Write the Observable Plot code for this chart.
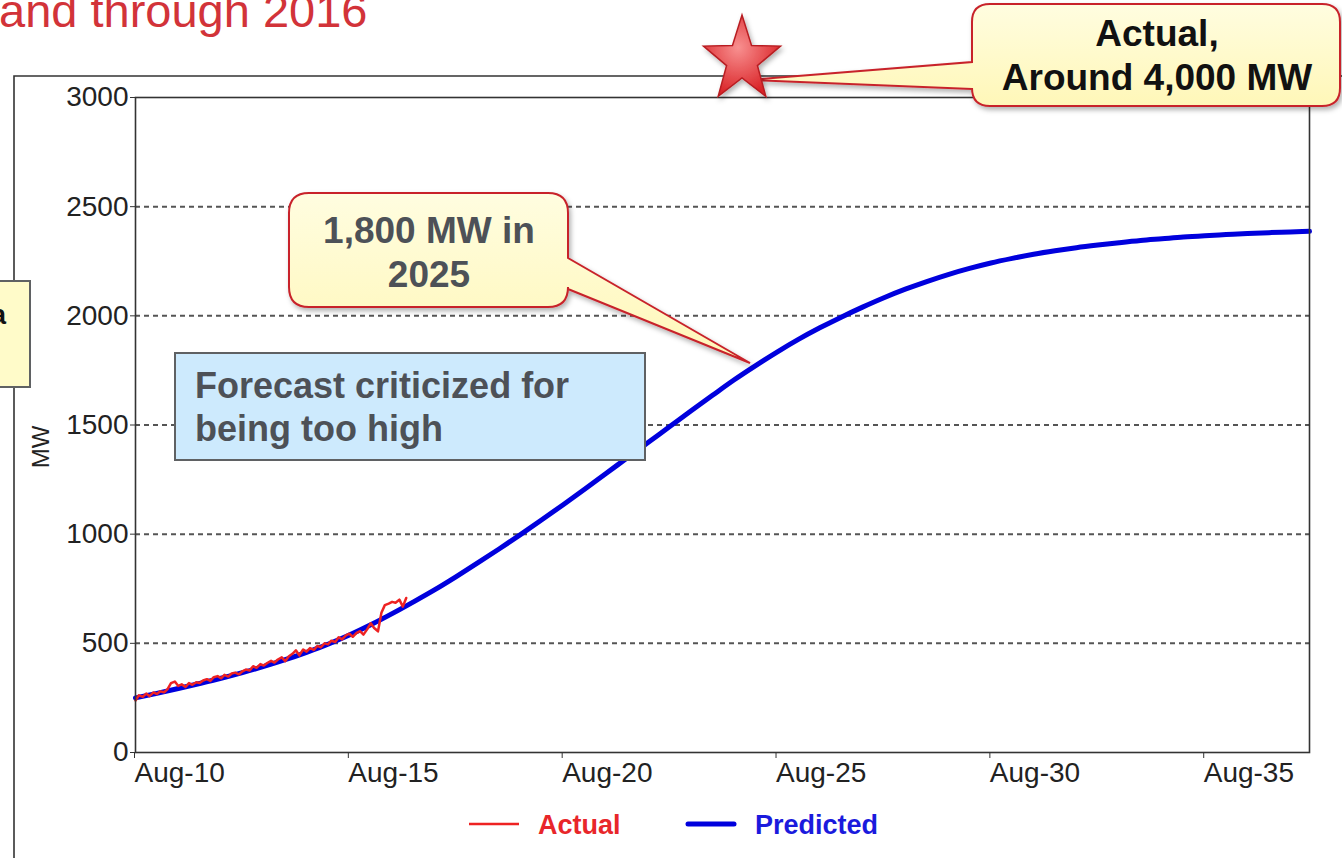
<!DOCTYPE html>
<html>
<head>
<meta charset="utf-8">
<script src="https://cdn.jsdelivr.net/npm/d3@7"></script>
<script src="https://cdn.jsdelivr.net/npm/@observablehq/plot@0.6"></script>
<style>
  html, body { margin:0; padding:0; background:#fff; width:1342px; height:858px; overflow:hidden; }
  #wrap { position:relative; width:1342px; height:858px; font-family:"Liberation Sans", Arial, sans-serif; }
  #wrap > svg { position:absolute; left:0; top:0; }
  #overlay { pointer-events:none; }
</style>
</head>
<body>
<div id="wrap"></div>
<script>
// ---- data ----
const xTicks = [2010, 2015, 2020, 2025, 2030, 2035];
const xTickLabels = ["Aug-10", "Aug-15", "Aug-20", "Aug-25", "Aug-30", "Aug-35"];
const yTicks = [0, 500, 1000, 1500, 2000, 2500, 3000];
const gridLines = [500, 1000, 1500, 2000, 2500];

const predYear = [2010.0, 2010.5, 2011.0, 2011.5, 2012.0, 2012.5, 2013.0, 2013.5, 2014.0, 2014.5,
  2015.0, 2015.5, 2016.0, 2016.5, 2017.0, 2017.5, 2018.0, 2018.5, 2019.0, 2019.5,
  2020.0, 2020.5, 2021.0, 2021.5, 2022.0, 2022.5, 2023.0, 2023.5, 2024.0, 2024.5,
  2025.0, 2025.5, 2026.0, 2026.5, 2027.0, 2027.5, 2028.0, 2028.5, 2029.0, 2029.5,
  2030.0, 2030.5, 2031.0, 2031.5, 2032.0, 2032.5, 2033.0, 2033.5, 2034.0, 2034.5,
  2035.0, 2035.5, 2036.0, 2036.5, 2037.0, 2037.45];
const predMW = [250, 271, 293, 316, 340, 366, 394, 425, 459, 496,
  538, 585, 636, 690, 746, 806, 868, 932, 998, 1066,
  1135, 1206, 1278, 1350, 1422, 1494, 1566, 1637, 1707, 1772,
  1834, 1892, 1945, 1994, 2040, 2083, 2122, 2157, 2189, 2217,
  2242, 2263, 2282, 2298, 2312, 2324, 2335, 2345, 2353, 2361,
  2367, 2372, 2377, 2381, 2384, 2387];

const actualYear = [2010.00, 2010.08, 2010.17, 2010.25, 2010.33, 2010.42, 2010.50, 2010.58, 2010.67, 2010.75,
  2010.83, 2010.92, 2011.00, 2011.08, 2011.17, 2011.25, 2011.33, 2011.42, 2011.50, 2011.58,
  2011.67, 2011.75, 2011.83, 2011.92, 2012.00, 2012.08, 2012.17, 2012.25, 2012.33, 2012.42,
  2012.50, 2012.58, 2012.67, 2012.75, 2012.83, 2012.92, 2013.00, 2013.08, 2013.17, 2013.25,
  2013.33, 2013.42, 2013.50, 2013.58, 2013.67, 2013.75, 2013.83, 2013.92, 2014.00, 2014.08,
  2014.17, 2014.25, 2014.33, 2014.42, 2014.50, 2014.58, 2014.67, 2014.75, 2014.83, 2014.92,
  2015.00, 2015.08, 2015.17, 2015.25, 2015.33, 2015.42, 2015.50, 2015.58, 2015.67, 2015.75,
  2015.83, 2015.92, 2016.00, 2016.08, 2016.17, 2016.25, 2016.33];
const actualMW = [238, 262, 255, 270, 258, 275, 268, 280, 276, 290,
  318, 325, 305, 312, 300, 318, 310, 322, 318, 330,
  336, 328, 345, 350, 340, 356, 348, 362, 366, 358,
  372, 380, 376, 395, 388, 405, 398, 410, 420, 412,
  426, 436, 418, 440, 452, 468, 445, 472, 462, 478,
  470, 488, 482, 500, 495, 512, 506, 528, 518, 536,
  544, 530, 548, 556, 540, 565, 592, 570, 555, 640,
  675, 682, 690, 686, 700, 668, 708];

const predicted = predYear.map((y, i) => ({year: y, mw: predMW[i]}));
const actual = actualYear.map((y, i) => ({year: y, mw: actualMW[i]}));

// ---- chart ----
const chart = Plot.plot({
  width: 1342,
  height: 858,
  marginLeft: 135,
  marginRight: 33,
  marginTop: 97,
  marginBottom: 106,
  style: {fontFamily: "'Liberation Sans', Arial, sans-serif", fontSize: "28px", color: "#222", background: "transparent", overflow: "visible"},
  x: {domain: [2010, 2037.45]},
  y: {domain: [0, 3000]},
  marks: [
    Plot.ruleY(gridLines, {stroke: "#555", strokeWidth: 2, strokeDasharray: "5,4"}),
    Plot.line(predicted, {x: "year", y: "mw", stroke: "#0000dd", strokeWidth: 5, curve: "monotone-x"}),
    Plot.line(actual, {x: "year", y: "mw", stroke: "#ee2222", strokeWidth: 2.5}),
    Plot.frame({stroke: "#333", strokeWidth: 1.6}),
    Plot.axisY({ticks: yTicks, tickFormat: d => String(d), tickSize: 5, tickPadding: 2, label: null, stroke: "#333", fill: "#222"}),
    Plot.axisX({ticks: xTicks, tickFormat: d => xTickLabels[xTicks.indexOf(d)], tickSize: 6, tickPadding: 4, textAnchor: "start", dx: -1, label: null, stroke: "#333", fill: "#222"})
  ]
});
document.getElementById("wrap").appendChild(chart);

// ---- overlay annotations ----
const ov = d3.select("#wrap").append("svg").attr("id", "overlay")
  .attr("width", 1342).attr("height", 858)
  .style("font-family", "'Liberation Sans', Arial, sans-serif");

const defs = ov.append("defs");
const yg = defs.append("linearGradient").attr("id", "yel").attr("x1", 0).attr("y1", 0).attr("x2", 0).attr("y2", 1);
yg.append("stop").attr("offset", "0%").attr("stop-color", "#fffde0");
yg.append("stop").attr("offset", "100%").attr("stop-color", "#fff7b8");
const rg = defs.append("radialGradient").attr("id", "starg").attr("cx", "45%").attr("cy", "40%").attr("r", "60%");
rg.append("stop").attr("offset", "0%").attr("stop-color", "#f89090");
rg.append("stop").attr("offset", "100%").attr("stop-color", "#d92226");
const f = defs.append("filter").attr("id", "sh").attr("x", "-10%").attr("y", "-10%").attr("width", "130%").attr("height", "140%");
f.append("feDropShadow").attr("dx", 2).attr("dy", 3).attr("stdDeviation", 2.5).attr("flood-color", "#000").attr("flood-opacity", 0.3);

// outer frame of slide chart
ov.append("path").attr("d", "M14,858 L14,76 L1342,76").attr("fill", "none").attr("stroke", "#333").attr("stroke-width", 1.6);

// title (cut at top, as in the slide)
ov.append("text").attr("x", -1).attr("y", 27).attr("font-size", 47).attr("fill", "#d23339").text("and through 2016");

// "MW" y label
ov.append("text").attr("transform", "translate(49,447) rotate(-90)").attr("text-anchor", "middle")
  .attr("font-size", 24).attr("fill", "#222").text("MW");

// left cut box
ov.append("rect").attr("x", -20).attr("y", 281).attr("width", 50).attr("height", 106)
  .attr("fill", "#fffbc9").attr("stroke", "#5f6163").attr("stroke-width", 2);
ov.append("text").attr("x", 6).attr("y", 324).attr("text-anchor", "end").attr("font-size", 27).attr("font-weight", "bold").attr("fill", "#111").text("a");

// blue box
ov.append("rect").attr("x", 175).attr("y", 353).attr("width", 470).attr("height", 107)
  .attr("fill", "#cdeafd").attr("stroke", "#5f6163").attr("stroke-width", 2);
const bt = ov.append("text").attr("font-size", 36).attr("font-weight", "bold").attr("fill", "#4d5157");
bt.append("tspan").attr("x", 195).attr("y", 398).text("Forecast criticized for");
bt.append("tspan").attr("x", 195).attr("y", 441).text("being too high");

function calloutPath(x0, y0, x1, y1, r, side, pa, pb, tip) {
  let d = `M${x0 + r},${y0} L${x1 - r},${y0} Q${x1},${y0} ${x1},${y0 + r} `;
  if (side === "right") d += `L${x1},${pa} L${tip[0]},${tip[1]} L${x1},${pb} `;
  d += `L${x1},${y1 - r} Q${x1},${y1} ${x1 - r},${y1} L${x0 + r},${y1} Q${x0},${y1} ${x0},${y1 - r} `;
  if (side === "left") d += `L${x0},${pb} L${tip[0]},${tip[1]} L${x0},${pa} `;
  d += `L${x0},${y0 + r} Q${x0},${y0} ${x0 + r},${y0} Z`;
  return d;
}

// callout 2: 1,800 MW in 2025
ov.append("path").attr("d", calloutPath(289, 193, 568, 307, 20, "right", 258, 289, [750, 363]))
  .attr("fill", "url(#yel)").attr("stroke", "#c8242b").attr("stroke-width", 2).attr("filter", "url(#sh)");
const c2 = ov.append("text").attr("font-size", 37).attr("font-weight", "bold").attr("fill", "#4d5157").attr("text-anchor", "middle");
c2.append("tspan").attr("x", 429).attr("y", 243).text("1,800 MW in");
c2.append("tspan").attr("x", 429).attr("y", 287).text("2025");

// star
const cx = 742, cy = 60, R = 45, r0 = 18;
const pts = [];
for (let k = 0; k < 10; k++) {
  const a = -Math.PI / 2 + k * Math.PI / 5;
  const rr = k % 2 === 0 ? R : r0;
  pts.push([cx + 0.9 * rr * Math.cos(a), cy + rr * Math.sin(a)]);
}

// callout 1: Actual, Around 4,000 MW
ov.append("path").attr("d", calloutPath(972, 4, 1340, 106, 18, "left", 62, 89, [748, 80]))
  .attr("fill", "url(#yel)").attr("stroke", "#c8242b").attr("stroke-width", 2).attr("filter", "url(#sh)");
ov.append("polygon").attr("points", pts.map(p => p.join(",")).join(" "))
  .attr("fill", "url(#starg)").attr("stroke", "#b81e22").attr("stroke-width", 1.5).attr("filter", "url(#sh)");
const c1 = ov.append("text").attr("font-size", 37).attr("font-weight", "bold").attr("fill", "#111").attr("text-anchor", "middle");
c1.append("tspan").attr("x", 1157).attr("y", 46).text("Actual,");
c1.append("tspan").attr("x", 1157).attr("y", 90).text("Around 4,000 MW");

// legend
ov.append("line").attr("x1", 469).attr("x2", 519).attr("y1", 824).attr("y2", 824).attr("stroke", "#ee2222").attr("stroke-width", 2.5);
ov.append("text").attr("x", 538).attr("y", 834).attr("font-size", 27).attr("font-weight", "bold").attr("fill", "#e8262a").text("Actual");
ov.append("line").attr("x1", 688).attr("x2", 734).attr("y1", 824).attr("y2", 824).attr("stroke", "#0000dd").attr("stroke-width", 5).attr("stroke-linecap", "round");
ov.append("text").attr("x", 755).attr("y", 834).attr("font-size", 27).attr("font-weight", "bold").attr("fill", "#1a1add").text("Predicted");
</script>
</body>
</html>
